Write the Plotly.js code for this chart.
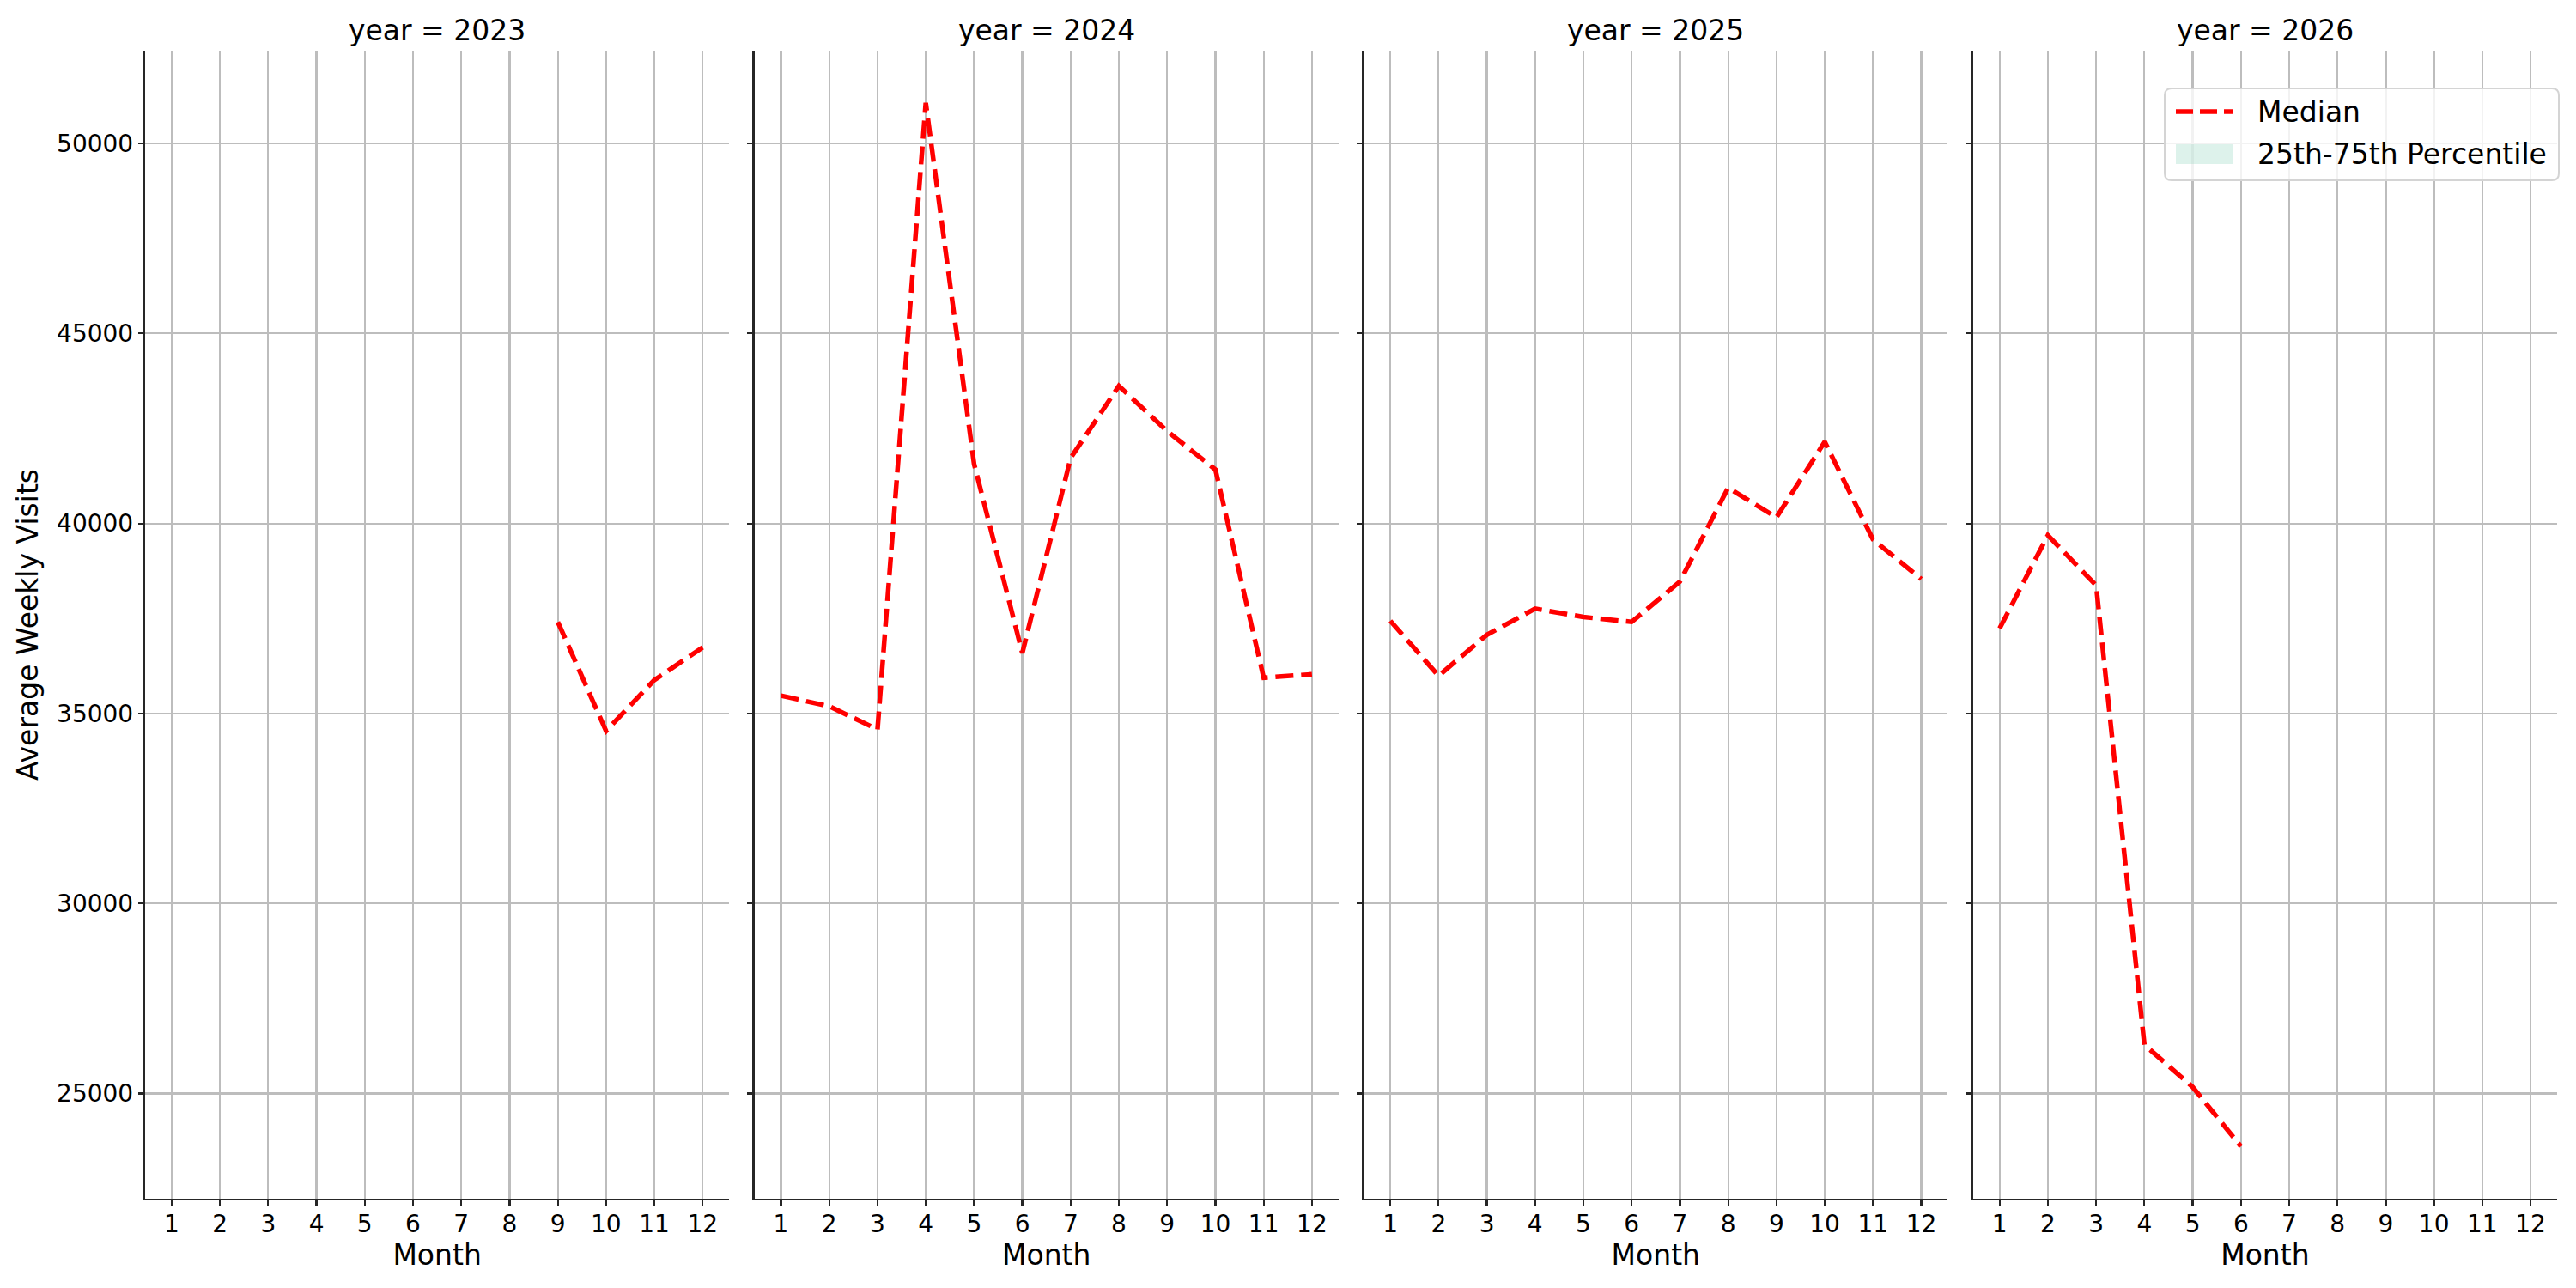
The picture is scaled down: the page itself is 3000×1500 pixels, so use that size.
<!DOCTYPE html>
<html>
<head>
<meta charset="utf-8">
<script src="https://cdn.plot.ly/plotly-3.0.1.min.js"></script>
<style>html,body{margin:0;padding:0;background:#fff;}</style>
</head>
<body>
<div id="chart" style="width:3000px;height:1500px;"></div>
<script>
// ---- data ----
const years = [2023, 2024, 2025, 2026];
const monthTicks = [1, 2, 3, 4, 5, 6, 7, 8, 9, 10, 11, 12];
const yTicks = [25000, 30000, 35000, 40000, 45000, 50000];

const months2023 = [9, 10, 11, 12];
const median2023 = [37410, 34540, 35880, 36740];

const months2024 = [1, 2, 3, 4, 5, 6, 7, 8, 9, 10, 11, 12];
const median2024 = [35470, 35190, 34580, 51070, 41570, 36590, 41720, 43620, 42430, 41420, 35940, 36030];

const months2025 = [1, 2, 3, 4, 5, 6, 7, 8, 9, 10, 11, 12];
const median2025 = [37440, 35990, 37070, 37760, 37540, 37410, 38470, 40940, 40160, 42150, 39580, 38540];

const months2026 = [1, 2, 3, 4, 5, 6];
const median2026 = [37240, 39690, 38370, 26280, 25170, 23604];

// 25th-75th percentile band: no band is visible in the reference (empty)
const p25 = [];
const p75 = [];

const legendLabels = ['Median', '25th-75th Percentile'];

const monthsByYear = [months2023, months2024, months2025, months2026];
const medianByYear = [median2023, median2024, median2025, median2026];

// ---- layout geometry ----
const W = 3000, H = 1500;
const mL = 169, mR = 22, mT = 59, mB = 104;
const plotW = W - mL - mR, plotH = H - mT - mB;
const panelW = 680.2, gapW = (plotW - 4 * panelW) / 3;
const px = v => (v - mL) / plotW;          // pixel x -> paper x
const py = v => (H - mB - v) / plotH;      // pixel y -> paper y

const FONT = 'DejaVu Sans, sans-serif';
const gridColor = '#bdbdbd';
const axisColor = '#262626';
const medianColor = '#ff0000';
const bandColor = 'rgba(102,194,165,0.22)';

const traces = [];
const layout = {
  width: W, height: H,
  margin: {l: mL, r: mR, t: mT, b: mB, pad: 0},
  paper_bgcolor: '#ffffff',
  plot_bgcolor: '#ffffff',
  font: {family: FONT, color: '#000000', size: 28},
  showlegend: false,
  annotations: [],
  shapes: []
};

years.forEach((yr, i) => {
  const sfx = i === 0 ? '' : String(i + 1);
  const x0 = (i * (panelW + gapW)) / plotW;
  const x1 = (i * (panelW + gapW) + panelW) / plotW;
  layout['xaxis' + sfx] = {
    domain: [x0, x1],
    anchor: 'y' + sfx,
    range: [0.45, 12.55],
    tickmode: 'array', tickvals: monthTicks, ticktext: monthTicks.map(String),
    ticks: 'outside', ticklen: 6, tickwidth: 2.2, tickcolor: axisColor,
    ticklabelstandoff: -3,
    showgrid: true, gridcolor: gridColor, gridwidth: 2.2,
    zeroline: false,
    showline: true, linecolor: axisColor, linewidth: 2.2,
    tickfont: {family: FONT, size: 28, color: '#000'},
    title: {text: 'Month', font: {family: FONT, size: 33, color: '#000'}, standoff: 3},
    fixedrange: true
  };
  layout['yaxis' + sfx] = {
    domain: [0, 1],
    anchor: 'x' + sfx,
    range: [22231, 52443],
    tickmode: 'array', tickvals: yTicks, ticktext: yTicks.map(String),
    showticklabels: i === 0,
    ticks: 'outside', ticklen: 6, tickwidth: 2.2, tickcolor: axisColor,
    showgrid: true, gridcolor: gridColor, gridwidth: 2.2,
    zeroline: false,
    showline: true, linecolor: axisColor, linewidth: 2.2,
    tickfont: {family: FONT, size: 28, color: '#000'},
    fixedrange: true
  };
  if (i === 0) {
    layout.yaxis.title = {text: 'Average Weekly Visits', font: {family: FONT, size: 33, color: '#000'}, standoff: 12};
  }
  layout.annotations.push({
    text: 'year = ' + yr,
    xref: 'paper', yref: 'paper',
    x: (x0 + x1) / 2, y: 1, xanchor: 'center', yanchor: 'bottom', yshift: 2,
    showarrow: false,
    font: {family: FONT, size: 33, color: '#000'}
  });

  traces.push({
    type: 'scatter', mode: 'lines',
    x: monthsByYear[i], y: medianByYear[i],
    xaxis: 'x' + sfx, yaxis: 'y' + sfx,
    name: 'Median', legendgroup: 'median', showlegend: false,
    line: {color: medianColor, width: 5.5, dash: '21px,9px'},
    hoverinfo: 'skip'
  });
});

// percentile band (empty in the reference, so nothing is drawn)
traces.push({
  type: 'scatter', mode: 'none',
  x: p25.length ? monthTicks.concat(monthTicks.slice().reverse()) : [],
  y: p25.length ? p25.concat(p75.slice().reverse()) : [],
  xaxis: 'x4', yaxis: 'y4',
  fill: 'toself', fillcolor: bandColor,
  name: '25th-75th Percentile', showlegend: false, hoverinfo: 'skip'
});

// ---- legend box (matplotlib style, upper right of last panel) ----
const bx0 = 2521, bx1 = 2980, by0 = 103, by1 = 210, r = 8;
const X = v => px(v), Y = v => py(v);
const rx = r;
const pathStr =
  `M${X(bx0 + rx)},${Y(by0)} L${X(bx1 - rx)},${Y(by0)} Q${X(bx1)},${Y(by0)} ${X(bx1)},${Y(by0 + rx)} ` +
  `L${X(bx1)},${Y(by1 - rx)} Q${X(bx1)},${Y(by1)} ${X(bx1 - rx)},${Y(by1)} ` +
  `L${X(bx0 + rx)},${Y(by1)} Q${X(bx0)},${Y(by1)} ${X(bx0)},${Y(by1 - rx)} ` +
  `L${X(bx0)},${Y(by0 + rx)} Q${X(bx0)},${Y(by0)} ${X(bx0 + rx)},${Y(by0)} Z`;
layout.shapes.push({
  type: 'path', xref: 'paper', yref: 'paper', path: pathStr, layer: 'above',
  fillcolor: 'rgba(255,255,255,0.8)', line: {color: '#d4d4d4', width: 2}
});
layout.shapes.push({
  type: 'line', xref: 'paper', yref: 'paper', layer: 'above',
  x0: X(2534), x1: X(2601), y0: Y(130), y1: Y(130),
  line: {color: medianColor, width: 5.5, dash: '20px,8px'}
});
layout.shapes.push({
  type: 'rect', xref: 'paper', yref: 'paper', layer: 'above',
  x0: X(2534), x1: X(2601), y0: Y(168), y1: Y(191),
  fillcolor: bandColor, line: {width: 0}
});
[130, 179].forEach((yy, k) => {
  layout.annotations.push({
    text: legendLabels[k], xref: 'paper', yref: 'paper',
    x: X(2627), y: Y(yy), xanchor: 'left', yanchor: 'middle',
    showarrow: false, font: {family: FONT, size: 33, color: '#000'}
  });
});

Plotly.newPlot('chart', traces, layout, {displayModeBar: false, staticPlot: true});
</script>
</body>
</html>
